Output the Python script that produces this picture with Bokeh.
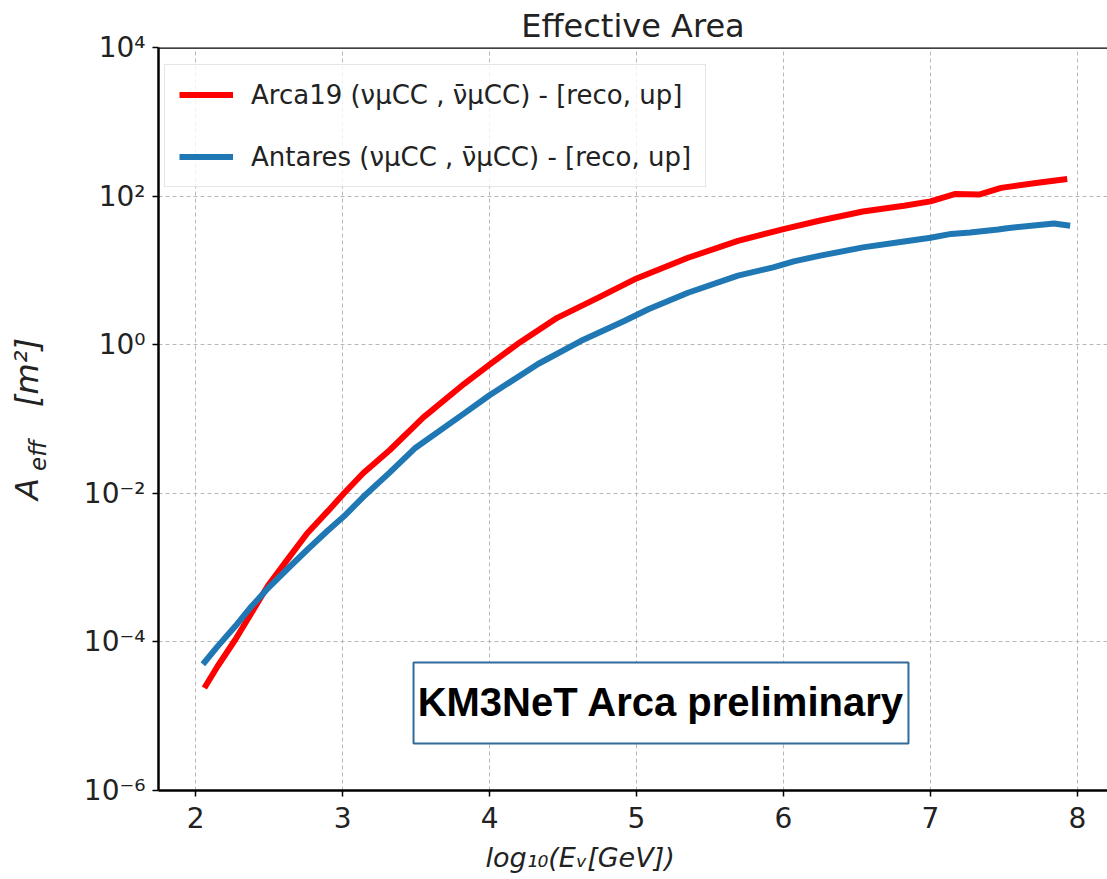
from bokeh.plotting import figure
from bokeh.models import (Range1d, FixedTicker, Legend, LegendItem, Label, Span,
                          BoxAnnotation, LinearAxis)
from bokeh.embed import file_html
from bokeh.resources import INLINE

# ---- data ----
arca_logE = [2.06, 2.15, 2.27, 2.38, 2.49, 2.63, 2.76, 2.90, 3.01, 3.14, 3.32, 3.55, 3.83, 4.00,
             4.19, 4.46, 4.74, 5.00, 5.35, 5.69, 6.00, 6.25, 6.54, 6.82, 7.00, 7.17, 7.33, 7.48,
             7.73, 7.93]
arca_aeff = [2.4e-5, 4.7e-5, 1.07e-4, 2.45e-4, 5.6e-4, 1.32e-3, 2.9e-3, 5.75e-3, 1.0e-2, 1.86e-2,
             3.8e-2, 0.105, 0.30, 0.54, 1.02, 2.3, 4.3, 7.8, 14.8, 25.0, 36.0, 47.0, 62.0, 74.0,
             85.0, 107.0, 105.0, 129.0, 151.0, 170.0]
antares_logE = [2.05, 2.15, 2.27, 2.38, 2.49, 2.63, 2.76, 2.90, 3.01, 3.14, 3.32, 3.49, 3.83,
                4.00, 4.33, 4.62, 4.92, 5.08, 5.35, 5.69, 5.93, 6.07, 6.25, 6.54, 6.82, 7.00,
                7.14, 7.27, 7.46, 7.52, 7.84, 7.95]
antares_aeff = [5.0e-5, 8.7e-5, 1.62e-4, 3.0e-4, 5.2e-4, 9.8e-4, 1.74e-3, 3.16e-3, 4.9e-3, 8.9e-3,
                1.9e-2, 4.0e-2, 0.12, 0.209, 0.55, 1.12, 2.1, 3.0, 5.0, 8.5, 11.0, 13.2, 15.8,
                20.4, 24.5, 27.5, 31.0, 32.4, 35.5, 37.0, 42.7, 40.0]
x_ticks = [2, 3, 4, 5, 6, 7, 8]
y_ticks = [1e-6, 1e-4, 1e-2, 1.0, 1e2, 1e4]
y_tick_labels = ["10⁻⁶", "10⁻⁴", "10⁻²", "10⁰", "10²", "10⁴"]
series_labels = ["Arca19 (νμCC , ν̄μCC) - [reco, up]", "Antares (νμCC , ν̄μCC) - [reco, up]"]

FONT = "DejaVu Sans"
TXT = "#222222"
NB = "\u00a0"

p = figure(width=1107, height=879, y_axis_type="log",
           x_range=Range1d(1.748, 8.204), y_range=Range1d(1e-6, 1e4),
           output_backend="svg", toolbar_location=None,
           min_border_left=158, min_border_right=0, min_border_top=47, min_border_bottom=89,
           title="Effective Area")
p.background_fill_color = "white"
p.border_fill_color = "white"
p.outline_line_color = None

p.title.align = "center"
p.title.text_font = FONT
p.title.text_font_size = "32px"
p.title.text_font_style = "normal"
p.title.text_color = TXT
p.title.standoff = 6

r1 = p.line(arca_logE, arca_aeff, line_color="#ff0000", line_width=6)
r2 = p.line(antares_logE, antares_aeff, line_color="#1f77b4", line_width=6)

p.xaxis.ticker = FixedTicker(ticks=x_ticks, minor_ticks=[])
p.yaxis.ticker = FixedTicker(ticks=y_ticks, minor_ticks=[])
p.yaxis.major_label_overrides = dict(zip(y_ticks, y_tick_labels))
for ax in (p.xaxis[0], p.yaxis[0]):
    ax.axis_line_color = "black"
    ax.axis_line_width = 2.5
    ax.major_tick_line_color = "black"
    ax.major_tick_line_width = 1.5
    ax.major_tick_out = 6
    ax.major_tick_in = 0
    ax.minor_tick_line_color = None
    ax.major_label_text_font = FONT
    ax.major_label_text_font_size = "28px"
    ax.major_label_text_color = TXT
p.xaxis.major_label_standoff = 10
p.yaxis.major_label_standoff = 7

# y-axis label: subscript part ("eff") on an inner label-only axis, main part on an outer one
def label_axis(text, size, standoff):
    ax = LinearAxis(axis_label=text, axis_label_text_font=FONT,
                    axis_label_text_font_style="italic", axis_label_text_font_size=size,
                    axis_label_text_color=TXT, axis_label_standoff=standoff,
                    axis_line_color=None, major_tick_line_color=None,
                    minor_tick_line_color=None, major_label_text_font_size="0px",
                    ticker=FixedTicker(ticks=[]))
    p.add_layout(ax, "left")

label_axis("eff" + NB * 10, "23px", 30)
label_axis("A" + NB * 7 + "[m²]", "32px", -24)

# x-axis label (side panel, so it is not clipped by the frame)
p.add_layout(Label(x=327, y=4, x_units="screen", y_units="screen",
                   text="log₁₀(Eᵥ[GeV])", text_align="left", text_baseline="alphabetic",
                   text_font=FONT, text_font_style="italic", text_font_size="27px",
                   text_color=TXT), "below")

p.grid.grid_line_color = "#b8b8b8"
p.grid.grid_line_dash = "4 3"
p.grid.grid_line_width = 1

p.add_layout(Span(location=1e4, dimension="width", line_color="black", line_width=2.5))

legend = Legend(items=[LegendItem(label=series_labels[0], renderers=[r1]),
                       LegendItem(label=series_labels[1], renderers=[r2])],
                location=(6, 603), orientation="vertical",
                glyph_width=54, glyph_height=31, label_height=31, spacing=31,
                padding=14, label_standoff=18, margin=0,
                label_text_font=FONT, label_text_font_size="26px", label_text_color=TXT,
                border_line_color="#cccccc", border_line_width=1.5,
                background_fill_color="white", background_fill_alpha=0.8)
p.add_layout(legend)

# KM3NeT box
p.add_layout(BoxAnnotation(left=3.483, right=6.85, bottom=4.3e-6, top=5.28e-5,
                           fill_color="white", fill_alpha=1.0,
                           line_color="#2f6a9a", line_alpha=1.0, line_width=2))
p.add_layout(Label(x=5.167, y=1.53e-5, text="KM3NeT Arca preliminary",
                   text_align="center", text_baseline="middle",
                   text_font="Liberation Sans", text_font_style="bold",
                   text_font_size="40px", text_color="black"))

open("out.html", "w").write(file_html(p, INLINE))
